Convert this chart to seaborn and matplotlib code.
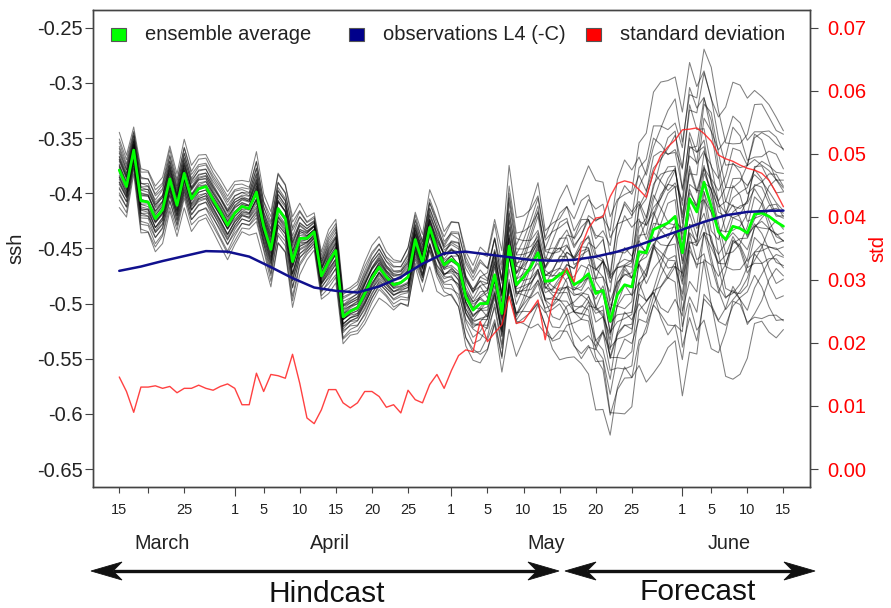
import numpy as np
import pandas as pd
import matplotlib
matplotlib.use("Agg")
import matplotlib.pyplot as plt
import seaborn as sns
from matplotlib.patches import Rectangle, Polygon
from matplotlib.lines import Line2D
import matplotlib.transforms as mtransforms

sns.set_theme(style="white")
plt.rcParams["font.family"] = ["Liberation Sans", "DejaVu Sans"]
plt.rcParams["axes.unicode_minus"] = False

# ---------------------------------------------------------------- data
# daily steps, day 0 = first model day in mid March, day 92 = mid June
ensemble_mean = [
    -0.379, -0.394, -0.361, -0.407, -0.408, -0.423, -0.415, -0.387, -0.411, -0.382,
    -0.405, -0.396, -0.394, -0.406, -0.417, -0.429, -0.418, -0.412, -0.414, -0.399,
    -0.430, -0.451, -0.414, -0.423, -0.462, -0.441, -0.441, -0.435, -0.475, -0.462,
    -0.452, -0.512, -0.507, -0.504, -0.491, -0.477, -0.467, -0.476, -0.483, -0.481,
    -0.476, -0.442, -0.463, -0.431, -0.451, -0.465, -0.460, -0.465, -0.494, -0.506,
    -0.500, -0.500, -0.474, -0.509, -0.448, -0.483, -0.476, -0.467, -0.454, -0.480,
    -0.479, -0.474, -0.470, -0.483, -0.479, -0.473, -0.491, -0.488, -0.516, -0.492,
    -0.483, -0.485, -0.453, -0.454, -0.433, -0.430, -0.427, -0.421, -0.454, -0.405,
    -0.417, -0.390, -0.412, -0.435, -0.442, -0.430, -0.432, -0.436, -0.419, -0.418,
    -0.421, -0.426, -0.430,
]

ensemble_std = [
    0.0146, 0.0123, 0.0090, 0.0130, 0.0130, 0.0132, 0.0128, 0.0131, 0.0121, 0.0128,
    0.0128, 0.0133, 0.0128, 0.0125, 0.0131, 0.0135, 0.0128, 0.0102, 0.0102, 0.0152,
    0.0123, 0.0150, 0.0148, 0.0144, 0.0182, 0.0136, 0.0081, 0.0072, 0.0094, 0.0126,
    0.0126, 0.0105, 0.0097, 0.0105, 0.0123, 0.0123, 0.0115, 0.0098, 0.0102, 0.0089,
    0.0125, 0.0110, 0.0105, 0.0134, 0.0150, 0.0128, 0.0156, 0.0180, 0.0189, 0.0186,
    0.0234, 0.0202, 0.0216, 0.0229, 0.0274, 0.0231, 0.0234, 0.0251, 0.0268, 0.0205,
    0.0266, 0.0295, 0.0319, 0.0297, 0.0353, 0.0382, 0.0398, 0.0400, 0.0432, 0.0453,
    0.0457, 0.0454, 0.0443, 0.0431, 0.0471, 0.0497, 0.0511, 0.0522, 0.0538, 0.0539,
    0.0541, 0.0532, 0.0520, 0.0498, 0.0492, 0.0488, 0.0482, 0.0477, 0.0474, 0.0469,
    0.0458, 0.0438, 0.0416,
]

obs_days = [0, 3, 6, 9, 12, 15, 18, 21, 24, 27, 30, 33, 36, 39, 42, 45,
            48, 51, 54, 57, 60, 63, 66, 69, 72, 75, 78, 81, 84, 87, 90, 92]
obs_ssh = [-0.4704, -0.4665, -0.4615, -0.4570, -0.4525, -0.4530, -0.4575, -0.4670,
           -0.4770, -0.4855, -0.4885, -0.4900, -0.4845, -0.4760, -0.4640, -0.4545,
           -0.4530, -0.4555, -0.4580, -0.4605, -0.4612, -0.4604, -0.4575, -0.4530,
           -0.4470, -0.4400, -0.4330, -0.4260, -0.4200, -0.4170, -0.4160, -0.4158]

# member departures from the ensemble mean, in units of the ensemble std:
# a fixed shift plus two day-to-day modes of variability
member_shift = [-2.3, -1.9, -1.6, -1.4, -1.2, -1.05, -0.9, -0.8, -0.7, -0.6, -0.5,
                -0.4, -0.3, -0.2, -0.1, 0.0, 0.1, 0.2, 0.3, 0.4, 0.5, 0.6, 0.7, 0.8,
                0.9, 1.0, 1.15, 1.3, 1.5, 1.7, 1.95, 2.3]
member_swing = [0.4, -0.3, 0.2, -0.45, 0.35, -0.15, 0.45, -0.35, 0.25, -0.25, 0.1,
                -0.4, 0.3, -0.2, 0.45, -0.1, 0.15, -0.45, 0.35, -0.3, 0.2, -0.05,
                0.4, -0.35, 0.25, -0.2, 0.45, -0.4, 0.15, -0.25, 0.3, -0.15]
member_drift = [-0.3, 0.4, 0.5, -0.2, 0.25, -0.45, 0.1, 0.35, -0.5, 0.2, 0.45, -0.25,
                -0.4, 0.3, 0.05, -0.35, 0.5, 0.25, -0.1, -0.45, 0.35, 0.4, -0.3, 0.1,
                -0.5, 0.45, -0.05, 0.3, -0.35, 0.2, -0.25, 0.4]
swing_mode = [
    0.0, 0.2, -0.2, 0.1, 0.3, -0.1, -0.3, 0.2, 0.0, -0.2,
    0.1, 0.3, 0.2, -0.1, -0.3, -0.2, 0.1, 0.2, 0.0, -0.2,
    -0.3, 0.1, 0.3, 0.2, -0.1, -0.3, -0.1, 0.2, 0.3, 0.0,
    -0.2, -0.3, 0.0, 0.2, 0.3, 0.1, -0.2, -0.3, 0.0, 0.2,
    0.4, 0.1, -0.4, -0.6, -0.2, 0.4, 0.7, 0.3, -0.5, -0.8,
    -0.3, 0.5, 0.9, 0.4, -0.6, -0.9, -0.2, 0.6, 0.9, 0.3,
    -0.6, -1.0, -0.3, 0.7, 1.0, 0.4, -0.5, -1.0, -0.6, 0.5,
    1.0, 0.7, -0.3, -0.9, -0.7, 0.2, 0.9, 0.8, -0.2, -1.0,
    -0.8, 0.3, 1.0, 0.6, -0.4, -0.9, -0.5, 0.4, 0.9, 0.6,
    -0.2, -0.7, -0.4,
]
drift_mode = [
    0.1, 0.1, 0.0, -0.1, -0.2, -0.2, -0.1, 0.0, 0.1, 0.2,
    0.2, 0.1, 0.0, -0.1, -0.2, -0.2, -0.1, 0.1, 0.2, 0.2,
    0.1, 0.0, -0.2, -0.3, -0.2, 0.0, 0.2, 0.3, 0.2, 0.0,
    -0.2, -0.3, -0.2, 0.0, 0.2, 0.3, 0.2, 0.0, -0.2, -0.3,
    -0.3, -0.1, 0.2, 0.4, 0.5, 0.3, 0.0, -0.3, -0.5, -0.6,
    -0.4, 0.0, 0.4, 0.6, 0.7, 0.5, 0.1, -0.3, -0.6, -0.8,
    -0.7, -0.3, 0.2, 0.6, 0.8, 0.8, 0.5, 0.0, -0.5, -0.8,
    -0.9, -0.7, -0.3, 0.2, 0.6, 0.9, 0.9, 0.6, 0.1, -0.4,
    -0.8, -0.9, -0.7, -0.3, 0.2, 0.6, 0.8, 0.8, 0.5, 0.1,
    -0.3, -0.6, -0.7,
]

tick_days = [0, 4, 9, 16, 20, 25, 30, 35, 40, 46, 51, 56, 61, 66, 71, 78, 82, 87, 92]
tick_labels = ["15", "", "25", "1", "5", "10", "15", "20", "25", "1", "5", "10",
               "15", "20", "25", "1", "5", "10", "15"]
month_start_days = [16, 46, 78]
month_names = ["March", "April", "May", "June"]
month_label_days = [5.9, 29.2, 59.2, 84.5]

ssh_ticks = [-0.65, -0.6, -0.55, -0.5, -0.45, -0.4, -0.35, -0.3, -0.25]
ssh_tick_labels = ["-0.65", "-0.6", "-0.55", "-0.5", "-0.45", "-0.4", "-0.35", "-0.3", "-0.25"]
std_ticks = [0.0, 0.01, 0.02, 0.03, 0.04, 0.05, 0.06, 0.07]

legend_labels = ["ensemble average", "observations L4 (-C)", "standard deviation"]
legend_colors = ["#00ff00", "#00008b", "#ff0000"]

# ---------------------------------------------------------------- frames
days = np.arange(len(ensemble_mean))
mean_arr = np.array(ensemble_mean)
std_arr = np.array(ensemble_std)
swing_arr = np.array(swing_mode)
drift_arr = np.array(drift_mode)

member_frames = []
for k, (a, b, c) in enumerate(zip(member_shift, member_swing, member_drift)):
    member_frames.append(pd.DataFrame({
        "day": days,
        "ssh": mean_arr + std_arr * (a + b * swing_arr + c * drift_arr),
        "member": k,
    }))
members = pd.concat(member_frames, ignore_index=True)
mean_df = pd.DataFrame({"day": days, "ssh": mean_arr})
obs_df = pd.DataFrame({"day": obs_days, "ssh": obs_ssh})
std_df = pd.DataFrame({"day": days, "std": std_arr})

# ---------------------------------------------------------------- figure
W, H = 891, 608
fig = plt.figure(figsize=(W / 100, H / 100), dpi=100)
ax = fig.add_axes([92.7 / W, 1 - 486.7 / H, 717.3 / W, 476.7 / H])

sns.lineplot(data=members, x="day", y="ssh", units="member", estimator=None,
             color="black", alpha=0.5, linewidth=0.75, ax=ax, legend=False)
sns.lineplot(data=mean_df, x="day", y="ssh", estimator=None,
             color="#00ff00", linewidth=2.0, ax=ax)
sns.lineplot(data=obs_df, x="day", y="ssh", estimator=None,
             color="#10108e", linewidth=1.8, ax=ax)

ax.set_xlim(-3.68, 95.68)
ax.set_ylim(-0.666, -0.234)
ax.set_xticks(tick_days)
ax.set_xticklabels(tick_labels, fontsize=10.5, color="#222222")
ax.set_yticks(ssh_ticks)
ax.set_yticklabels(ssh_tick_labels, fontsize=14.5, color="#222222")
ax.tick_params(axis="x", bottom=True, direction="out", length=4.5, width=0.8,
               color="#444444", pad=7.5)
ax.tick_params(axis="y", left=True, direction="out", length=5.5, width=0.8,
               color="#444444", pad=1.5)
for tick, loc in zip(ax.xaxis.get_major_ticks(), tick_days):
    if loc in month_start_days:
        tick.tick1line.set_markersize(6.5)
ax.set_xlabel("")
ax.set_ylabel("ssh", fontsize=14.5, color="#222222")
ax.yaxis.set_label_coords(-0.094, 0.5)
for s in ax.spines.values():
    s.set_color("#444444")
    s.set_linewidth(1.0)

ax2 = ax.twinx()
sns.lineplot(data=std_df, x="day", y="std", estimator=None,
             color="#ff2020", linewidth=1.0, alpha=0.85, ax=ax2)
ax2.set_ylim(-0.0028, 0.0728)
ax2.set_yticks(std_ticks)
ax2.set_yticklabels([f"{v:.2f}" for v in std_ticks], fontsize=14.5, color="#ff0000")
ax2.tick_params(axis="y", right=True, direction="out", length=5.8, width=0.8,
                color="#444444", pad=6.5)
ax2.set_ylabel("std", fontsize=14.5, color="#ff0000")
ax2.yaxis.set_label_coords(1.081, 0.5)
for s in ax2.spines.values():
    s.set_color("#444444")
    s.set_linewidth(1.0)

# legend row along the top of the panel
legend_x = [0.0353, 0.3671, 0.6975]
legend_y = 0.9476
sq_w, sq_h = 15 / 717.3, 13 / 476.7
for x, lab, col in zip(legend_x, legend_labels, legend_colors):
    ax.add_patch(Rectangle((x - sq_w / 2, legend_y - sq_h / 2), sq_w, sq_h,
                           transform=ax.transAxes, facecolor=col,
                           edgecolor="#555555", linewidth=0.8, zorder=5))
    ax.text(x + 0.0376, legend_y, lab, transform=ax.transAxes, fontsize=14.5,
            ha="left", va="center", color="#222222", zorder=5)

# month names under the day ticks
month_tr = mtransforms.blended_transform_factory(ax.transData, fig.transFigure)
for d, name in zip(month_label_days, month_names):
    ax.text(d, 1 - 549 / H, name, transform=month_tr, fontsize=14.3,
            ha="center", va="baseline", color="#222222", clip_on=False)


# hindcast / forecast double arrows (figure pixel units)
def fpt(x, y):
    return (x / W, 1 - y / H)


def double_arrow(x0, x1, y, head_len=31, head_half=9, notch=22):
    (lx0, ly), (lx1, _) = fpt(x0 + notch, y), fpt(x1 - notch, y)
    fig.add_artist(Line2D([lx0, lx1], [ly, ly], transform=fig.transFigure,
                          color="#111111", linewidth=2.4, solid_capstyle="butt"))
    for tip, sgn in ((x0, 1), (x1, -1)):
        head = Polygon([fpt(tip, y), fpt(tip + sgn * head_len, y - head_half),
                        fpt(tip + sgn * notch, y), fpt(tip + sgn * head_len, y + head_half)],
                       closed=True, transform=fig.transFigure,
                       facecolor="#111111", edgecolor="#111111", linewidth=0.6)
        fig.add_artist(head)


double_arrow(91, 559, 571)
double_arrow(565, 815, 571)
fig.text(327 / W, 1 - 602 / H, "Hindcast", fontsize=21.5, ha="center",
         va="baseline", color="#111111")
fig.text(698 / W, 1 - 600 / H, "Forecast", fontsize=21.5, ha="center",
         va="baseline", color="#111111")

fig.savefig("out.png", dpi=100)
